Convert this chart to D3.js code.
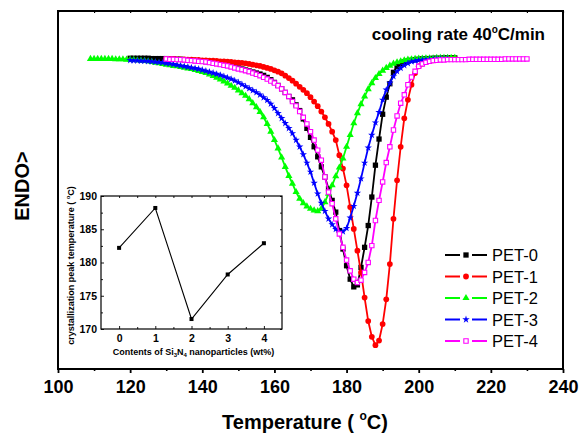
<!DOCTYPE html>
<html>
<head>
<meta charset="utf-8">
<script src="https://cdn.jsdelivr.net/npm/d3@7"></script>
<style>
body { margin: 0; background: #fff; }
svg text { font-family: "Liberation Sans", Arial, sans-serif; }
</style>
</head>
<body>
<div id="CHART"></div>
<script>
// DSC cooling curves, heat flow in a.u., one reading per degree
const pet0_start = 120;
const pet0_heat = [0.02,0.02,0.02,0.02,0.02,0.02,0.01,0.01,0.01,0.01,
  0.01,0.00,0.00,-0.01,-0.01,-0.02,-0.03,-0.04,-0.05,-0.06,
  -0.07,-0.08,-0.10,-0.11,-0.13,-0.15,-0.17,-0.19,-0.21,-0.24,
  -0.27,-0.30,-0.33,-0.36,-0.39,-0.42,-0.45,-0.49,-0.55,-0.62,
  -0.70,-0.79,-0.89,-1.00,-1.12,-1.22,-1.37,-1.54,-1.79,-2.07,
  -2.34,-2.62,-2.92,-3.22,-3.52,-3.87,-4.22,-4.57,-5.12,-5.67,
  -6.17,-6.57,-6.80,-6.74,-6.22,-5.62,-4.97,-4.12,-3.17,-2.39,
  -1.65,-1.14,-0.74,-0.40,-0.22,-0.14,-0.09,-0.06,-0.04,-0.02,
  -0.01,0.00,0.01,0.01,0.02,0.02,0.02,0.03,0.03,0.03,
  0.03];
const pet1_start = 130;
const pet1_heat = [0.00,0.00,0.00,-0.01,-0.01,-0.01,-0.02,-0.02,-0.03,-0.03,
  -0.04,-0.04,-0.05,-0.05,-0.06,-0.07,-0.07,-0.08,-0.09,-0.10,
  -0.11,-0.12,-0.13,-0.15,-0.17,-0.19,-0.21,-0.24,-0.27,-0.30,
  -0.34,-0.38,-0.43,-0.50,-0.57,-0.65,-0.74,-0.83,-0.92,-1.02,
  -1.14,-1.27,-1.41,-1.57,-1.74,-1.94,-2.17,-2.42,-2.87,-3.27,
  -3.77,-4.42,-5.07,-5.72,-6.37,-7.12,-7.82,-8.29,-8.54,-8.40,
  -7.91,-7.17,-6.12,-4.77,-3.62,-2.62,-1.77,-1.22,-0.77,-0.42,
  -0.22,-0.14,-0.09,-0.06,-0.04,-0.02,-0.01,0.00,0.00,0.01,
  0.01];
const pet2_start = 109;
const pet2_heat = [0.00,0.00,0.00,0.00,0.00,0.00,0.00,-0.01,-0.01,-0.01,
  -0.02,-0.02,-0.03,-0.04,-0.05,-0.06,-0.07,-0.09,-0.11,-0.13,
  -0.15,-0.17,-0.19,-0.21,-0.22,-0.24,-0.26,-0.28,-0.30,-0.33,
  -0.36,-0.39,-0.42,-0.46,-0.51,-0.56,-0.61,-0.67,-0.73,-0.80,
  -0.86,-0.94,-1.02,-1.10,-1.20,-1.32,-1.44,-1.58,-1.74,-1.94,
  -2.17,-2.42,-2.67,-2.94,-3.22,-3.49,-3.72,-3.97,-4.17,-4.30,
  -4.40,-4.47,-4.52,-4.54,-4.47,-4.27,-4.02,-3.77,-3.50,-3.24,
  -2.97,-2.62,-2.27,-1.92,-1.62,-1.35,-1.12,-0.90,-0.72,-0.57,
  -0.45,-0.35,-0.27,-0.20,-0.14,-0.10,-0.07,-0.04,-0.02,-0.01,
  0.00,0.01,0.01,0.02,0.02,0.02,0.03,0.03,0.03,0.03,
  0.03,0.03];
const pet3_start = 120;
const pet3_heat = [-0.04,-0.05,-0.05,-0.06,-0.06,-0.07,-0.08,-0.09,-0.10,-0.11,
  -0.13,-0.14,-0.16,-0.18,-0.20,-0.22,-0.24,-0.26,-0.28,-0.30,
  -0.33,-0.36,-0.39,-0.42,-0.45,-0.48,-0.52,-0.56,-0.60,-0.65,
  -0.70,-0.76,-0.82,-0.88,-0.94,-1.00,-1.07,-1.15,-1.23,-1.34,
  -1.47,-1.62,-1.77,-1.92,-2.07,-2.22,-2.42,-2.62,-2.85,-3.10,
  -3.37,-3.70,-4.02,-4.30,-4.54,-4.77,-4.94,-5.08,-5.19,-5.15,
  -5.05,-4.74,-4.39,-4.00,-3.57,-3.10,-2.65,-2.27,-1.90,-1.59,
  -1.22,-0.92,-0.72,-0.52,-0.37,-0.27,-0.19,-0.13,-0.08,-0.06,
  -0.04,-0.03,-0.02,-0.01,-0.01,0.00,0.00,0.00,0.00];
const pet4_start = 130;
const pet4_heat = [0.00,-0.01,-0.01,-0.02,-0.02,-0.03,-0.04,-0.05,-0.06,-0.07,
  -0.08,-0.09,-0.11,-0.13,-0.15,-0.17,-0.19,-0.21,-0.24,-0.27,
  -0.30,-0.32,-0.35,-0.38,-0.42,-0.46,-0.50,-0.55,-0.60,-0.66,
  -0.72,-0.80,-0.89,-1.00,-1.12,-1.27,-1.40,-1.57,-1.74,-1.94,
  -2.17,-2.42,-2.72,-3.02,-3.52,-3.97,-4.32,-4.77,-5.22,-5.62,
  -6.00,-6.32,-6.57,-6.67,-6.60,-6.37,-6.07,-5.57,-4.82,-4.22,
  -3.67,-3.09,-2.62,-2.12,-1.70,-1.32,-1.07,-0.77,-0.54,-0.37,
  -0.22,-0.15,-0.10,-0.07,-0.05,-0.04,-0.03,-0.03,-0.02,-0.02,
  -0.02,-0.02,-0.02,-0.02,-0.01,-0.01,-0.01,-0.01,-0.01,-0.01,
  -0.01,-0.01,-0.01,-0.01,0.00,0.00,0.00,0.00,0.00,0.00,
  0.00];

const series_names = ["PET-0", "PET-1", "PET-2", "PET-3", "PET-4"];
const series_start = [pet0_start, pet1_start, pet2_start, pet3_start, pet4_start];
const series_heat = [pet0_heat, pet1_heat, pet2_heat, pet3_heat, pet4_heat];
const series_colors = ["#000000", "#ff0000", "#00ff00", "#0000ff", "#ff00ff"];

const temp_ticks = [100, 120, 140, 160, 180, 200, 220, 240];
const temp_minor = [110, 130, 150, 170, 190, 210, 230];

// inset: crystallization peak temperature vs Si3N4 content
const inset_content = [0, 1, 2, 3, 4];
const inset_peak = [182.2, 188.2, 171.5, 178.2, 182.9];
const inset_y_ticks = [170, 175, 180, 185, 190];
const inset_y_minor = [172.5, 177.5, 182.5, 187.5];
const inset_x_minor = [0.5, 1.5, 2.5, 3.5];

class dscChart {
    constructor() {
        this.div_ = d3.select("#CHART");
        this.svg = this.div_.append("svg").attr("width", 588).attr("height", 433);

        if(1){//main plot box
            this.main = {"x0": 58, "x1": 563, "y0": 11, "y1": 369};
            this.x = d3.scaleLinear().domain([100, 240]).range([this.main.x0, this.main.x1]);
            this.y = d3.scaleLinear().domain([-9.25, 1.43]).range([this.main.y1, this.main.y0]);
        }
        if(1){//inset box
            this.ins = {"x0": 101, "x1": 282, "y0": 196, "y1": 329};
            this.ix = d3.scaleLinear().domain([-0.5, 4.5]).range([this.ins.x0, this.ins.x1]);
            this.iy = d3.scaleLinear().domain([170, 190]).range([this.ins.y1, this.ins.y0]);
        }
        this.symbols = [
            {"type": d3.symbolSquare, "size": 28, "fill": true},
            {"type": d3.symbolCircle, "size": 26, "fill": true},
            {"type": d3.symbolTriangle, "size": 22, "fill": true},
            {"type": d3.symbolStar, "size": 17, "fill": true},
            {"type": d3.symbolSquare, "size": 19, "fill": false}
        ];

        this.paint_main();
        this.paint_legend();
        this.paint_inset();
    }

    marker(g, k, color) {
        let s = this.symbols[k];
        return g.attr("d", d3.symbol().type(s.type).size(s.size)())
            .attr("fill", s.fill ? color : "#fff")
            .attr("stroke", s.fill ? "none" : color)
            .attr("stroke-width", 1.1);
    }

    paint_main() {
        let this_ = this;
        let m = this_.main;

        //axes
        this_.svg.append("g")
            .attr("transform", `translate(0,${m.y1})`)
            .call(d3.axisBottom(this_.x).tickValues(temp_ticks).tickSize(4).tickPadding(7))
            .call(g => g.select(".domain").remove())
            .call(g => g.selectAll("line").attr("stroke-width", 1.8))
            .call(g => g.selectAll("text").attr("font-size", 18).attr("font-weight", "bold")
                .attr("font-family", "Liberation Sans, Arial, sans-serif"));
        this_.svg.append("g")
            .attr("transform", `translate(0,${m.y1})`)
            .call(d3.axisBottom(this_.x).tickValues(temp_minor).tickSize(2).tickFormat(""))
            .call(g => g.select(".domain").remove())
            .call(g => g.selectAll("line").attr("stroke-width", 1.6));
        this_.svg.append("g")
            .attr("transform", `translate(0,${m.y0})`)
            .call(d3.axisBottom(this_.x).tickValues(temp_ticks.concat(temp_minor)).tickSize(2).tickFormat(""))
            .call(g => g.select(".domain").remove())
            .call(g => g.selectAll("line").attr("stroke-width", 1.2));

        this_.svg.append("rect")
            .attr("x", m.x0).attr("y", m.y0)
            .attr("width", m.x1 - m.x0).attr("height", m.y1 - m.y0)
            .attr("fill", "none").attr("stroke", "#000").attr("stroke-width", 2);

        //curves
        let line = d3.line().x(d => this_.x(d.t)).y(d => this_.y(d.v));
        for (let i = 0; i < series_names.length; i++){
            let pts = series_heat[i].map((v, j) => ({"t": series_start[i] + j, "v": v}));
            let g = this_.svg.append("g").attr("class", "curve");
            g.append("path")
                .datum(pts)
                .attr("d", line)
                .attr("fill", "none")
                .attr("stroke", series_colors[i])
                .attr("stroke-width", 1.8);
            g.selectAll("path.mk")
                .data(pts)
                .join("path")
                .attr("class", "mk")
                .attr("transform", d => `translate(${this_.x(d.t)},${this_.y(d.v)})`)
                .call(sel => this_.marker(sel, i, series_colors[i]));
        }

        //texts
        let title = this_.svg.append("text")
            .attr("x", 545).attr("y", 40)
            .attr("text-anchor", "end")
            .attr("font-size", 17).attr("font-weight", "bold");
        title.append("tspan").text("cooling rate 40");
        title.append("tspan").attr("font-size", 10).attr("dy", -7).text("o");
        title.append("tspan").attr("dy", 7).text("C/min");

        let xt = this_.svg.append("text")
            .attr("x", 305).attr("y", 429)
            .attr("text-anchor", "middle")
            .attr("font-size", 20).attr("font-weight", "bold");
        xt.append("tspan").text("Temperature ( ");
        xt.append("tspan").attr("font-size", 12).attr("dy", -9).text("o");
        xt.append("tspan").attr("dy", 9).text("C)");

        this_.svg.append("text")
            .attr("transform", "translate(29,186) rotate(-90)")
            .attr("text-anchor", "middle")
            .attr("font-size", 20).attr("font-weight", "bold")
            .text("ENDO>");
    }

    paint_legend() {
        let this_ = this;
        let lg = {"x0": 445, "x1": 487, "y0": 255, "dy": 21.5};
        let xm = (lg.x0 + lg.x1) / 2;
        for (let i = 0; i < series_names.length; i++){
            let yy = lg.y0 + i * lg.dy;
            let g = this_.svg.append("g");
            g.append("line").attr("x1", lg.x0).attr("x2", xm - 6).attr("y1", yy).attr("y2", yy)
                .attr("stroke", series_colors[i]).attr("stroke-width", 2);
            g.append("line").attr("x1", xm + 6).attr("x2", lg.x1).attr("y1", yy).attr("y2", yy)
                .attr("stroke", series_colors[i]).attr("stroke-width", 2);
            g.append("path").attr("transform", `translate(${xm},${yy})`)
                .call(sel => this_.marker(sel, i, series_colors[i]));
            g.append("text").attr("x", lg.x1 + 5).attr("y", yy + 6)
                .attr("font-size", 16.5)
                .text(series_names[i]);
        }
    }

    paint_inset() {
        let this_ = this;
        let b = this_.ins;
        let font = "Liberation Sans, Arial, sans-serif";

        this_.svg.append("rect")
            .attr("x", b.x0).attr("y", b.y0)
            .attr("width", b.x1 - b.x0).attr("height", b.y1 - b.y0)
            .attr("fill", "#fff").attr("stroke", "#000").attr("stroke-width", 1.2);

        let style_ticks = g => {
            g.select(".domain").remove();
            g.selectAll("line").attr("stroke-width", 0.9);
            g.selectAll("text").attr("font-size", 10.5).attr("font-weight", "bold").attr("font-family", font);
        };
        //bottom + top
        this_.svg.append("g").attr("transform", `translate(0,${b.y1})`)
            .call(d3.axisBottom(this_.ix).tickValues(inset_content).tickFormat(d3.format("d"))
                .tickSizeInner(-3).tickSizeOuter(0).tickPadding(6))
            .call(style_ticks);
        this_.svg.append("g").attr("transform", `translate(0,${b.y1})`)
            .call(d3.axisBottom(this_.ix).tickValues(inset_x_minor).tickSizeInner(-2).tickSizeOuter(0).tickFormat(""))
            .call(style_ticks);
        this_.svg.append("g").attr("transform", `translate(0,${b.y0})`)
            .call(d3.axisTop(this_.ix).tickValues(inset_content.concat(inset_x_minor)).tickSizeInner(-2).tickSizeOuter(0).tickFormat(""))
            .call(style_ticks);
        //left + right
        this_.svg.append("g").attr("transform", `translate(${b.x0},0)`)
            .call(d3.axisLeft(this_.iy).tickValues(inset_y_ticks).tickFormat(d3.format("d"))
                .tickSizeInner(-3).tickSizeOuter(0).tickPadding(4))
            .call(style_ticks);
        this_.svg.append("g").attr("transform", `translate(${b.x0},0)`)
            .call(d3.axisLeft(this_.iy).tickValues(inset_y_minor).tickSizeInner(-2).tickSizeOuter(0).tickFormat(""))
            .call(style_ticks);
        this_.svg.append("g").attr("transform", `translate(${b.x1},0)`)
            .call(d3.axisRight(this_.iy).tickValues(inset_y_ticks.concat(inset_y_minor)).tickSizeInner(-2).tickSizeOuter(0).tickFormat(""))
            .call(style_ticks);

        //data
        let pts = inset_content.map((c, i) => ({"c": c, "p": inset_peak[i]}));
        this_.svg.append("path")
            .datum(pts)
            .attr("d", d3.line().x(d => this_.ix(d.c)).y(d => this_.iy(d.p)))
            .attr("fill", "none").attr("stroke", "#000").attr("stroke-width", 1.1);
        this_.svg.selectAll("rect.ipt")
            .data(pts)
            .join("rect")
            .attr("class", "ipt")
            .attr("x", d => this_.ix(d.c) - 2).attr("y", d => this_.iy(d.p) - 2)
            .attr("width", 4).attr("height", 4)
            .attr("fill", "#000");

        //labels
        let xl = this_.svg.append("text")
            .attr("x", (b.x0 + b.x1) / 2 + 2).attr("y", 355)
            .attr("text-anchor", "middle")
            .attr("font-size", 9).attr("font-weight", "bold");
        xl.append("tspan").text("Contents of Si");
        xl.append("tspan").attr("font-size", 6).attr("dy", 2).text("3");
        xl.append("tspan").attr("dy", -2).text("N");
        xl.append("tspan").attr("font-size", 6).attr("dy", 2).text("4");
        xl.append("tspan").attr("dy", -2).text(" nanoparticles (wt%)");

        let yl = this_.svg.append("text")
            .attr("transform", `translate(74,${(b.y0 + b.y1) / 2 + 3}) rotate(-90)`)
            .attr("text-anchor", "middle")
            .attr("font-size", 9).attr("font-weight", "bold");
        yl.append("tspan").text("crystallization peak temperature ( ");
        yl.append("tspan").attr("font-size", 6).attr("dy", -4).text("o");
        yl.append("tspan").attr("dy", 4).text("C)");
    }
}

new dscChart();
</script>
</body>
</html>
